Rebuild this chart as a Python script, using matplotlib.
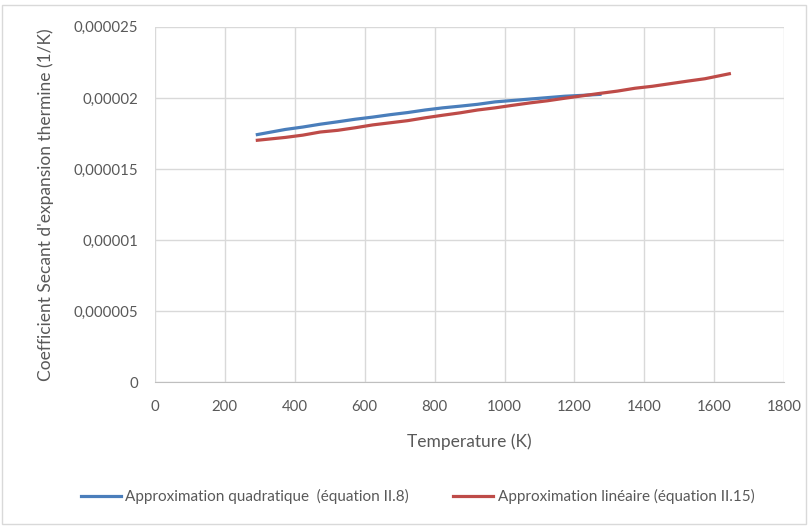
import matplotlib
matplotlib.use("Agg")
import matplotlib.pyplot as plt
from matplotlib.ticker import FuncFormatter, MultipleLocator
from matplotlib.patches import Rectangle

# temperatures (K)
temp_quad = [293, 373, 423, 473, 523, 573, 623, 673, 723, 773, 823, 873, 923, 973,
             1023, 1073, 1123, 1173, 1223, 1273]
temp_lin = temp_quad + [1323, 1373, 1423, 1473, 1523, 1573, 1643]

# coefficient secant (x1e-6 1/K)
alpha_quad = [17.42, 17.78, 17.95, 18.15, 18.32, 18.50, 18.65, 18.82, 18.97, 19.15,
              19.30, 19.42, 19.55, 19.72, 19.82, 19.92, 20.02, 20.12, 20.18, 20.25]
alpha_lin = [17.02, 17.22, 17.38, 17.60, 17.72, 17.90, 18.10, 18.25, 18.40, 18.60,
             18.78, 18.95, 19.15, 19.30, 19.48, 19.65, 19.80, 19.98, 20.15, 20.32,
             20.48, 20.68, 20.82, 21.00, 21.18, 21.35, 21.70]

label_quad = "Approximation quadratique  (équation II.8)"
label_lin = "Approximation linéaire (équation II.15)"

plt.rcParams["font.family"] = ["Lato", "DejaVu Sans"]
txt = "#595959"

fig = plt.figure(figsize=(8.11, 5.27), dpi=100)
ax = fig.add_axes([0.191, 0.275, 0.776, 0.674])

ax.plot(temp_quad, [a * 1e-6 for a in alpha_quad], color="#4a7ebb", lw=2.3, label=label_quad)
ax.plot(temp_lin, [a * 1e-6 for a in alpha_lin], color="#be4b48", lw=2.3, label=label_lin)

ax.set_xlim(0, 1800)
ax.set_ylim(0, 0.000025)
ax.xaxis.set_major_locator(MultipleLocator(200))
ax.yaxis.set_major_locator(MultipleLocator(0.000005))

def yfmt(v, pos):
    if abs(v) < 1e-12:
        return "0"
    return f"{v:.6f}".rstrip("0").replace(".", ",")

ax.yaxis.set_major_formatter(FuncFormatter(yfmt))
ax.grid(True, color="#d9d9d9", lw=1)
ax.set_axisbelow(True)
for s in ["top", "right", "left"]:
    ax.spines[s].set_visible(False)
ax.spines["bottom"].set_color("#bfbfbf")
ax.tick_params(length=0, colors=txt, labelsize=10.8)
ax.tick_params(axis="x", pad=13)
ax.tick_params(axis="y", pad=12)

ax.set_xlabel("Temperature (K)", color=txt, fontsize=12.5, labelpad=14)
ax.set_ylabel("Coefficient Secant d'expansion thermine (1/K)", color=txt, fontsize=12.5, labelpad=14)

leg = fig.legend(loc="center", bbox_to_anchor=(0.515, 0.057), ncol=2, frameon=False,
                 fontsize=11, handlelength=2.6, columnspacing=2.9, handletextpad=0.3)
for t in leg.get_texts():
    t.set_color(txt)

fig.add_artist(Rectangle((0.002, 0.006), 0.992, 0.985, transform=fig.transFigure,
                         fill=False, edgecolor="#d9d9d9", lw=1))

fig.savefig("out.png", dpi=100)
